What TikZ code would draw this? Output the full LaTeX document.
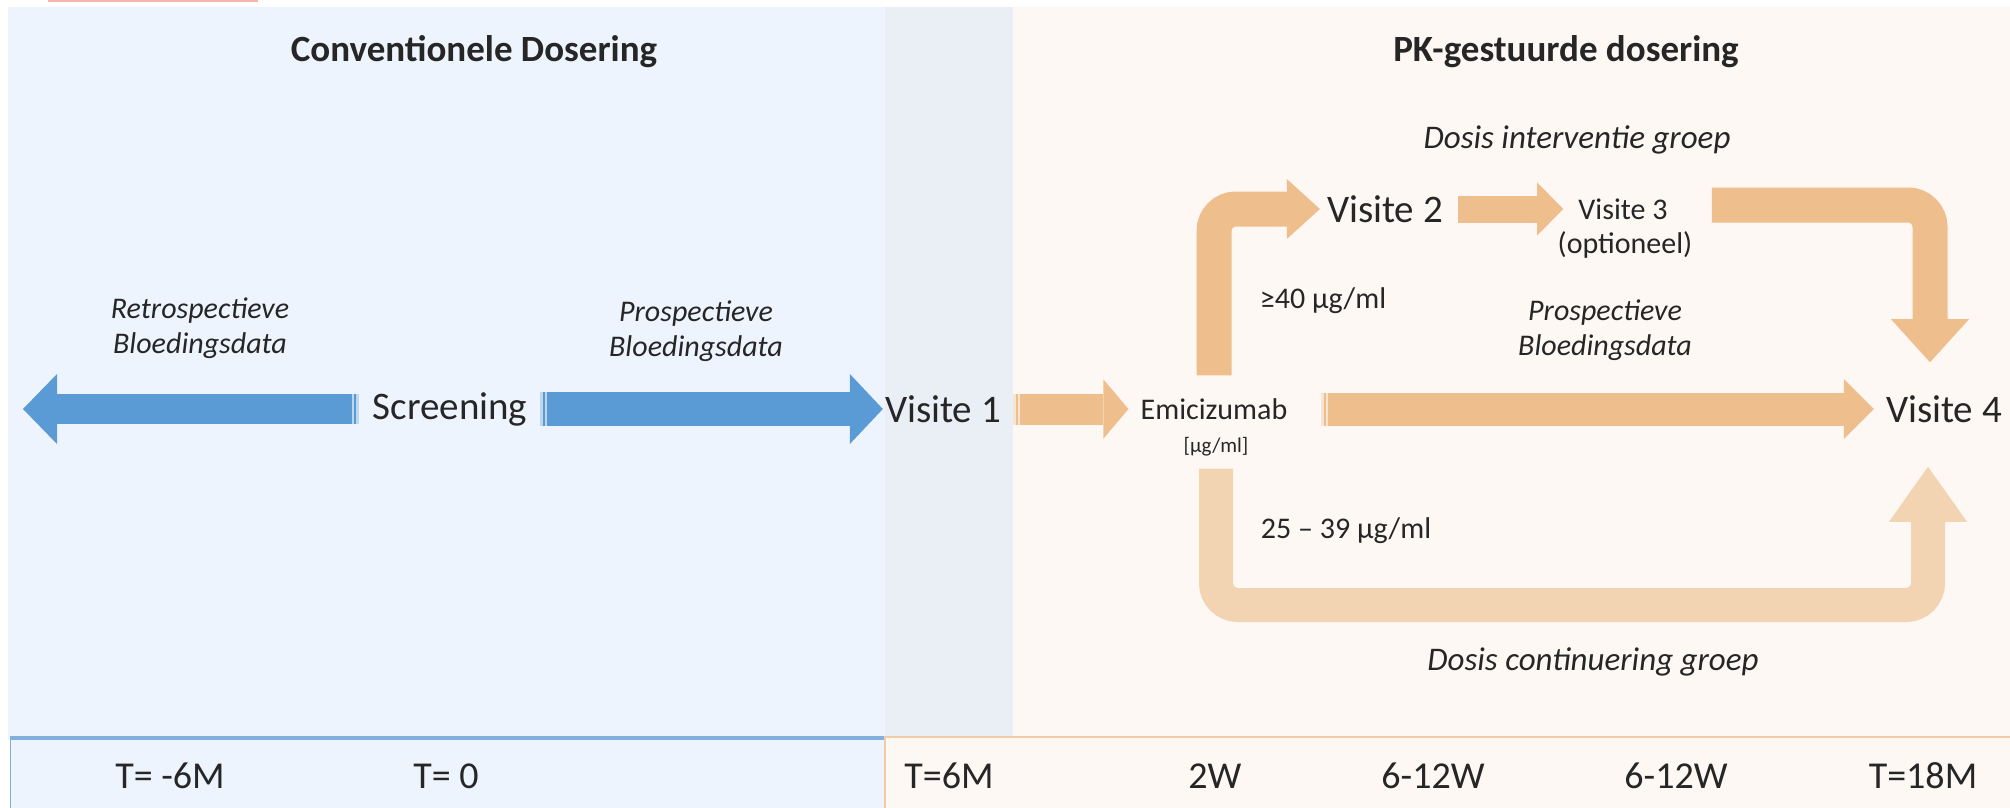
\documentclass[tikz,border=0pt]{standalone}
\usepackage{fontspec}
\setmainfont{Carlito}
\usepackage{tikz}
\usetikzlibrary{arrows.meta, positioning, calc}
\definecolor{PanelBlue}{RGB}{238,244,253}
\definecolor{PanelGrey}{RGB}{234,238,245}
\definecolor{PanelPeach}{RGB}{253,248,244}
\definecolor{ArrowBlue}{RGB}{91,155,213}
\definecolor{ArrowOrange}{RGB}{238,190,140}
\definecolor{ArrowLight}{RGB}{242,211,178}
\definecolor{LineBlue}{RGB}{130,176,222}
\definecolor{LineOrange}{RGB}{242,204,166}
\definecolor{Ink}{RGB}{38,38,38}
\definecolor{MarkRed}{RGB}{248,182,168}

\begin{document}
\begin{tikzpicture}[x=1pt, y=-1pt,
    every node/.style={text=Ink, inner sep=2pt},
    headlbl/.style={font=\bfseries\fontsize{37}{44}\selectfont},
    visitlbl/.style={font=\fontsize{39}{46}\selectfont},
    midlbl/.style={font=\fontsize{30}{36}\selectfont},
    unitlbl/.style={font=\fontsize{21}{25}\selectfont},
    notelbl/.style={font=\itshape\fontsize{30}{35}\selectfont, align=center},
    grouplbl/.style={font=\itshape\fontsize{33}{40}\selectfont},
    timelbl/.style={font=\fontsize{38}{45}\selectfont},
    blockarrow/.style n args={4}{line width=#1, draw=#2,
      -{Triangle[width=#3, length=#4, line width=0pt]}},
    striped/.style={postaction={draw=#1, -, dash pattern=on 3pt off 2pt on 2pt off 10000pt}}
  ]
  \useasboundingbox (0,0) rectangle (2010,808);

  % panels
  \fill[MarkRed] (48,0) rectangle (258,2);
  \fill[PanelBlue] (8,7) rectangle (885,740);
  \fill[PanelGrey] (885,7) rectangle (1013,740);
  \fill[PanelPeach] (1013,7) rectangle (2010,740);

  % time line
  \draw[LineBlue, fill=PanelBlue, line width=1pt] (10,737) rectangle (885,815);
  \draw[LineBlue, line width=4pt] (10,738) -- (885,738);
  \draw[LineOrange, fill=PanelPeach, line width=1.5pt] (885,737) rectangle (2015,815);
  \foreach \x/\t/\n in {170/T= -6M/tm6, 446/T= 0/t0, 949/T=6M/t6, 1215/2W/w2,
                        1433/6-12W/wa, 1676/6-12W/wb, 1923/T=18M/t18}
    \node[timelbl] (\n) at (\x,776) {\t};

  % titles
  \node[headlbl] (convhead) at (474,52) {Conventionele Dosering};
  \node[headlbl] (pkhead) at (1566,52) {PK-gestuurde dosering};
  \node[grouplbl] (intgrp) at (1577,140) {Dosis interventie groep};
  \node[grouplbl] (contgrp) at (1593,662) {Dosis continuering groep};

  % notes
  \node[notelbl] (retro) at (200,328) {Retrospectieve\\Bloedingsdata};
  \node[notelbl] (prosp) at (696,331) {Prospectieve\\Bloedingsdata};
  \node[notelbl] (prospb) at (1605,330) {Prospectieve\\Bloedingsdata};
  \node[midlbl] (hilvl) at (1323,301) {≥40 µg/ml};
  \node[midlbl] (lolvl) at (1346,531) {25 – 39 µg/ml};

  % visits
  \node[visitlbl] (scr) at (450,409) {Screening};
  \node[visitlbl] (v1) at (943,409) {Visite 1};
  \node[midlbl] (emi) at (1214,409) {Emicizumab};
  \node[unitlbl] (emiunit) at (1216,447) {[µg/ml]};
  \node[visitlbl] (v2) at (1385,209) {Visite 2};
  \node[midlbl] (v3) at (1623,209) {Visite 3};
  \node[midlbl] (v3opt) at (1625,245) {(optioneel)};
  \node[visitlbl] (v4) at (1944,409) {Visite 4};

  % arrows
  \coordinate (ltip) at (23,409);
  \coordinate (lowbend) at (1216,605);
  \draw[blockarrow={30pt}{ArrowBlue}{70pt}{34pt}, striped=ArrowBlue!40!white,
        shorten <=12pt] (scr.west) -- (ltip);
  \draw[blockarrow={34pt}{ArrowBlue}{70pt}{33pt}, striped=ArrowBlue!40!white,
        shorten <=10pt] (scr.east) -- (v1.west);
  \draw[blockarrow={31pt}{ArrowOrange}{59pt}{25pt}, striped=ArrowOrange!40!white,
        shorten <=10pt, shorten >=10pt] (v1.east) -- (emi.west);
  \draw[blockarrow={33pt}{ArrowOrange}{60pt}{30pt}, striped=ArrowOrange!40!white,
        shorten <=31pt, shorten >=10pt] (emi.east) -- (v4.west);
  \draw[blockarrow={35pt}{ArrowOrange}{60pt}{33pt}, rounded corners=22pt,
        shorten >=5pt] ([yshift=21pt]emi.north) |- (v2.west);
  \draw[blockarrow={27pt}{ArrowOrange}{53pt}{26pt},
        shorten <=13pt, shorten >=13pt] (v2.east) -- (v3.west);
  \draw[blockarrow={35pt}{ArrowOrange}{78pt}{43pt}, rounded corners=22pt]
    ([xshift=42pt,yshift=4pt]v3.east) -| ([xshift=-14pt,yshift=31pt]v4.north);
  \draw[blockarrow={34pt}{ArrowLight}{78pt}{55pt}, rounded corners=22pt]
    ([yshift=-10pt]emiunit.south) -- (lowbend) -| ([xshift=-16pt,yshift=-42pt]v4.south);
\end{tikzpicture}
\end{document}
